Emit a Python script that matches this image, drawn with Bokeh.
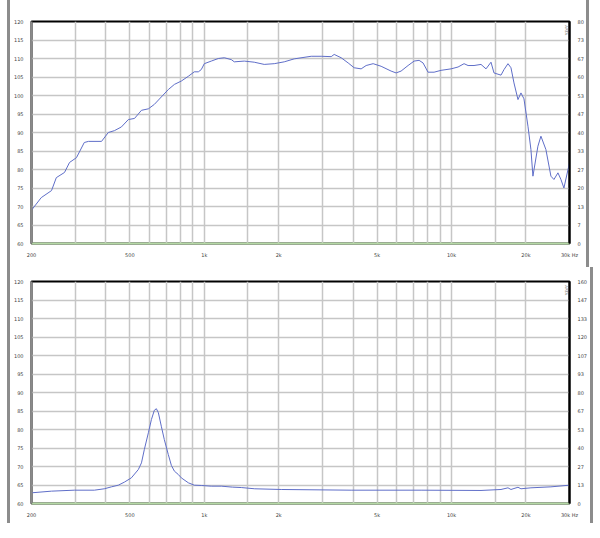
import math
from bokeh.plotting import figure
from bokeh.models import Range1d, LinearAxis, FixedTicker, CustomJSTickFormatter, Label
from bokeh.layouts import column
from bokeh.embed import file_html
from bokeh.resources import INLINE

# ---- data ----
spl_freq = [200, 219, 241, 252, 272, 285, 304, 327, 340, 384, 409, 433, 462, 493, 522, 557, 594,
            628, 670, 715, 757, 807, 862, 911, 946, 972, 1000, 1067, 1139, 1205, 1286, 1322, 1451,
            1592, 1747, 1918, 2105, 2310, 2706, 2970, 3260, 3352, 3578, 3818, 4038, 4309, 4514,
            4818, 5190, 5696, 5967, 6250, 6671, 7056, 7391, 7670, 8035, 8498, 9070, 9954, 10626,
            11236, 11662, 12330, 13158, 13786, 14440, 14850, 15850, 16298, 16916, 17394, 17886,
            18566, 19090, 19630, 20374, 20946, 21340, 22354, 22990, 24080, 25230, 25950, 26940,
            27700, 28480, 30000]
spl_db = [69.0, 72.4, 74.3, 77.8, 79.2, 81.9, 83.2, 87.3, 87.6, 87.6, 90.0, 90.5, 91.5, 93.5, 93.8,
          96.0, 96.4, 97.6, 99.6, 101.6, 103.0, 103.9, 105.2, 106.4, 106.4, 107.0, 108.6, 109.3,
          110.0, 110.2, 109.7, 109.1, 109.3, 109.0, 108.4, 108.6, 109.1, 109.9, 110.6, 110.6,
          110.5, 111.1, 110.2, 108.8, 107.5, 107.2, 108.1, 108.6, 107.9, 106.6, 106.1, 106.6,
          108.1, 109.3, 109.5, 108.8, 106.3, 106.3, 106.8, 107.2, 107.7, 108.6, 108.1, 108.1,
          108.4, 107.2, 109.0, 106.1, 105.5, 107.0, 108.6, 107.5, 103.4, 98.9, 100.7, 99.1, 91.7,
          85.4, 78.2, 86.3, 89.0, 85.4, 78.2, 77.3, 79.1, 77.3, 75.0, 81.8]

imp_freq = [200, 241, 298, 359, 394, 421, 449, 475, 507, 541, 557, 572, 594, 611, 628, 640, 652,
            670, 689, 715, 736, 757, 785, 807, 862, 911, 972, 1067, 1171, 1300, 1411, 1600, 2047,
            3926, 7530, 13158, 15850, 16916, 17394, 17886, 18566, 19090, 20946, 25230, 30000]
imp_ohm = [7.7, 8.9, 9.6, 9.6, 10.6, 12.0, 13.2, 15.4, 18.5, 24.5, 29.3, 38.9, 51.0, 60.5, 67.2,
           68.3, 65.4, 55.7, 46.1, 35.3, 27.4, 23.3, 20.9, 18.5, 14.9, 13.2, 13.0, 12.5, 12.5,
           11.8, 11.5, 10.6, 10.1, 9.6, 9.6, 9.4, 10.1, 11.3, 10.1, 10.8, 11.7, 10.6, 11.3, 12.0,
           13.2]

x_tick_freqs = [200, 500, 1000, 2000, 5000, 10000, 20000, 30000]
x_tick_labels = ["200", "500", "1k", "2k", "5k", "10k", "20k", "30k Hz"]
grid_freqs = [300, 400, 500, 600, 700, 800, 900, 1000, 1500, 2000, 3000, 4000, 5000, 6000,
              7000, 8000, 9000, 10000, 15000, 20000]
left_ticks = list(range(60, 125, 5))

LINE = "#5f6ec8"
GRID = "#c6c6c6"
FONT = "DejaVu Sans"


def style_axis(ax, line_color):
    ax.major_label_text_font_size = "5px"
    ax.major_label_text_color = "#444"
    ax.major_label_text_font = FONT
    ax.major_label_standoff = 2
    ax.major_tick_line_color = None
    ax.minor_tick_line_color = None
    ax.axis_line_color = line_color
    ax.axis_line_width = 2


def make_chart(freq, vals, right_max, on_right, top_border, bottom_border, right_label):
    p = figure(frame_width=538, frame_height=222, x_axis_type="log",
               x_range=Range1d(200, 30000), y_range=Range1d(60, 120),
               output_backend="svg", toolbar_location=None,
               min_border_left=17, min_border_right=13,
               min_border_top=top_border, min_border_bottom=bottom_border,
               background_fill_color="white", border_fill_color="white")
    p.outline_line_color = "black"
    p.outline_line_width = 2

    p.xgrid.ticker = FixedTicker(ticks=grid_freqs)
    p.xgrid.grid_line_color = GRID
    p.xgrid.grid_line_width = 1.5
    p.ygrid.ticker = FixedTicker(ticks=left_ticks)
    p.ygrid.grid_line_color = GRID
    p.ygrid.grid_line_width = 1.5

    xa = p.xaxis[0]
    xa.ticker = FixedTicker(ticks=x_tick_freqs)
    xa.major_label_overrides = {f: l for f, l in zip(x_tick_freqs, x_tick_labels)}
    style_axis(xa, "#b5d9a5")

    ya = p.yaxis[0]
    ya.ticker = FixedTicker(ticks=left_ticks)
    style_axis(ya, "#8a8a8a")

    p.extra_y_ranges = {"r": Range1d(0, right_max)}
    ra = LinearAxis(y_range_name="r",
                    ticker=FixedTicker(ticks=[right_max * i / 12 for i in range(13)]),
                    formatter=CustomJSTickFormatter(code="return Math.round(tick).toString();"))
    style_axis(ra, "black")
    p.add_layout(ra, "right")

    if on_right:
        p.line(freq, vals, y_range_name="r", line_color=LINE, line_width=1)
    else:
        p.line(freq, vals, line_color=LINE, line_width=1)

    p.add_layout(Label(x=28500, y=119, text="ARTA", angle=-math.pi / 2,
                       text_font_size="4px", text_color="#777", text_font=FONT))
    p.add_layout(Label(x=200, y=90, text="dB", angle=math.pi / 2, x_offset=-14,
                       text_font_size="5px", text_color="#333", text_font=FONT,
                       text_baseline="middle", text_align="center"))
    p.add_layout(Label(x=30000, y=90, text=right_label, angle=-math.pi / 2,
                       x_offset=15, text_font_size="4px", text_color="#555",
                       text_font=FONT, text_baseline="middle", text_align="center"))
    return p


top = make_chart(spl_freq, spl_db, 80, False, 21, 24, "deg")
bottom = make_chart(imp_freq, imp_ohm, 160, True, 14, 20, "Ohm")

box = {"margin-left": "7px", "border-left": "3px solid #8c8c8c",
       "border-right": "3px solid #8c8c8c", "width": "fit-content"}
layout = column(column(top, styles=box), column(bottom, styles=box), spacing=0)
open("out.html", "w").write(file_html(layout, INLINE))
